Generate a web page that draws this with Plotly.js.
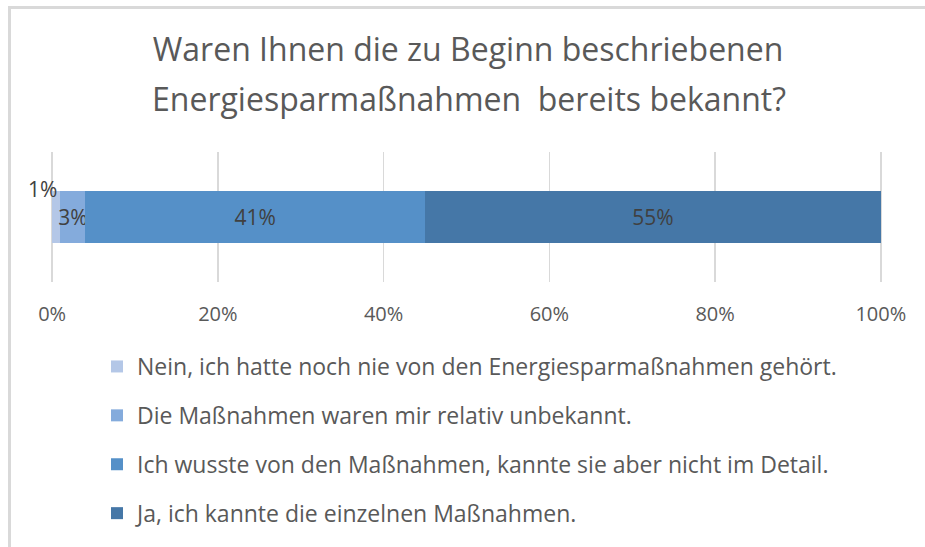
<!DOCTYPE html>
<html>
<head>
<meta charset="utf-8">
<script src="https://cdn.plot.ly/plotly-3.0.1.min.js"></script>
<style>
  html, body { margin: 0; padding: 0; background: #fff; overflow: hidden; }
  #chart { width: 925px; height: 547px; }
  #edge { position: absolute; left: 912px; top: 10px; width: 13px; height: 537px; background: #fff; z-index: 10; }
</style>
</head>
<body>
<div id="chart"></div>
<div id="edge"></div>
<script>
const categories = [""];
const seriesNames = [
  "Nein, ich hatte noch nie von den Energiesparmaßnahmen gehört.",
  "Die Maßnahmen waren mir relativ unbekannt.",
  "Ich wusste von den Maßnahmen, kannte sie aber nicht im Detail.",
  "Ja, ich kannte die einzelnen Maßnahmen."
];
const nein = [1];
const unbekannt = [3];
const wusste = [41];
const kannte = [55];
const seriesValues = [nein, unbekannt, wusste, kannte];
const seriesColors = ["#b4c7e7", "#84abdc", "#5590c8", "#4577a7"];
const tickVals = [0, 20, 40, 60, 80, 100];
const tickText = ["0%", "20%", "40%", "60%", "80%", "100%"];
const titleLine1 = "Waren Ihnen die zu Beginn beschriebenen";
const titleLine2 = "Energiesparmaßnahmen  bereits bekannt?";

const FONT = "'Open Sans', Lato, sans-serif";

// plot area geometry (pixels)
const L = 48, R = 40, T = 152, B = 265, W = 925, H = 547;
const PW = W - L - R, PH = H - T - B;
const px2x = px => (px - L) / PW;
const px2y = py => (H - B - py) / PH;

const traces = seriesValues.map((vals, i) => ({
  type: "bar",
  orientation: "h",
  name: seriesNames[i],
  y: categories,
  x: vals,
  legendgroup: "g" + i,
  marker: { color: seriesColors[i], line: { width: 0 } },
  text: vals.map(v => v + "%"),
  textposition: i === 0 ? "none" : "inside",
  insidetextanchor: "middle",
  textangle: 0,
  constraintext: "none",
  textfont: { family: FONT, size: 21, color: "#404040" },
  hoverinfo: "none",
  width: 0.4
}));

const layout = {
  width: W, height: H,
  paper_bgcolor: "#fff", plot_bgcolor: "#fff",
  barmode: "stack",
  margin: { l: L, r: R, t: T, b: B, autoexpand: false },
  font: { family: FONT, color: "#595959" },
  title: {
    text: titleLine1,
    xref: "container", yref: "container",
    x: 0.506, xanchor: "center",
    y: 1 - 50 / H, yanchor: "middle",
    font: { family: FONT, size: 32, color: "#595959" }
  },
  annotations: [
    {
      text: titleLine2, xref: "paper", yref: "paper",
      x: px2x(469), xanchor: "center",
      y: px2y(99), yanchor: "middle",
      showarrow: false,
      font: { family: FONT, size: 32, color: "#595959" }
    },
    {
      text: nein[0] + "%", xref: "x", yref: "y",
      x: nein[0], y: categories[0],
      xanchor: "right", yanchor: "bottom", yshift: 12, xshift: -1,
      showarrow: false,
      font: { family: FONT, size: 21, color: "#404040" }
    }
  ],
  shapes: [
    { type: "line", xref: "paper", yref: "paper", x0: px2x(9.5), x1: px2x(9.5), y0: px2y(6), y1: px2y(560),
      line: { color: "#d9d9d9", width: 3 } },
    { type: "line", xref: "paper", yref: "paper", x0: px2x(8), x1: px2x(940), y0: px2y(7.5), y1: px2y(7.5),
      line: { color: "#d9d9d9", width: 3 } }
  ],
  xaxis: {
    range: [-0.5, 100.5],
    tickvals: tickVals, ticktext: tickText,
    showgrid: true, gridcolor: "#d9d9d9", gridwidth: 1.5,
    zeroline: false, showline: false, ticks: "",
    ticklabelstandoff: 18,
    tickfont: { family: FONT, size: 20, color: "#595959" },
    fixedrange: true
  },
  yaxis: {
    range: [-0.5, 0.5],
    showticklabels: false, showgrid: false, zeroline: false, showline: false, ticks: "",
    fixedrange: true
  },
  showlegend: true,
  legend: {
    orientation: "v",
    x: px2x(97), xanchor: "left",
    y: px2y(345), yanchor: "top",
    traceorder: "grouped",
    tracegroupgap: 16,
    font: { family: FONT, size: 23, color: "#595959" },
    itemwidth: 30,
    bgcolor: "rgba(0,0,0,0)"
  }
};

Plotly.newPlot("chart", traces, layout, { displayModeBar: false, staticPlot: true });
</script>
</body>
</html>
